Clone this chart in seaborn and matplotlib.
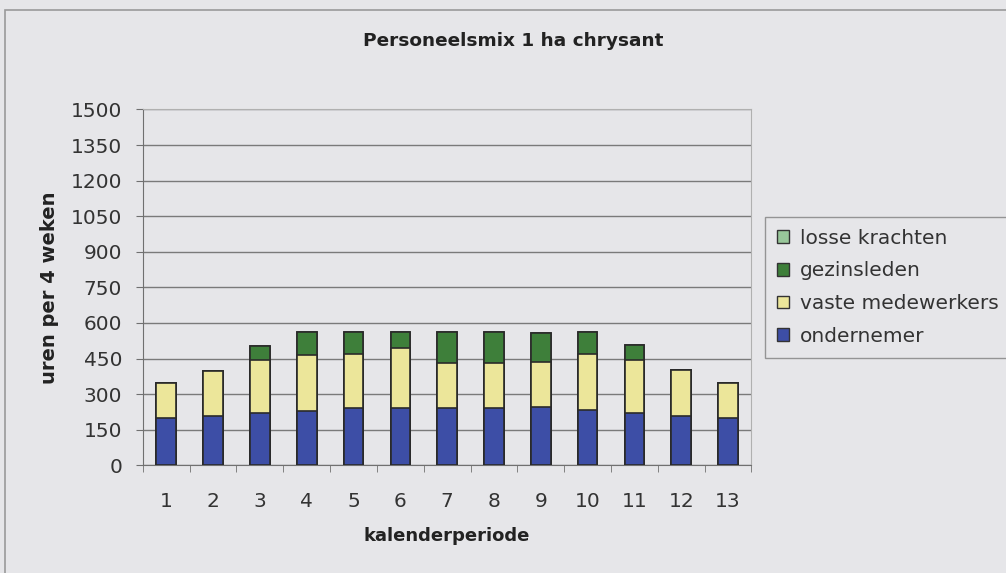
import numpy as np
import pandas as pd
import matplotlib
matplotlib.use("Agg")
import matplotlib.pyplot as plt
import matplotlib.patches as mpatches
from matplotlib.ticker import FixedLocator
import seaborn as sns

sns.set_style("white")
plt.rcParams["font.family"] = ["DejaVu Sans"]

periods = [str(i) for i in range(1, 14)]
ondernemer = [198, 207, 219, 230, 242, 242, 242, 242, 244, 233, 219, 209, 198]
vaste_medewerkers = [148, 191, 224, 235, 226, 254, 191, 191, 191, 238, 226, 192, 148]
gezinsleden = [0, 0, 61, 95, 92, 64, 127, 127, 123, 89, 62, 0, 0]
losse_krachten = [0] * 13

series = ["ondernemer", "vaste medewerkers", "gezinsleden", "losse krachten"]
colors = {"ondernemer": "#3d4ea6", "vaste medewerkers": "#ece69a",
          "gezinsleden": "#3e7f3a", "losse krachten": "#98c79a"}

df = pd.DataFrame({"periode": periods, "ondernemer": ondernemer,
                   "vaste medewerkers": vaste_medewerkers,
                   "gezinsleden": gezinsleden, "losse krachten": losse_krachten})
cum = df[series].cumsum(axis=1)
cum["periode"] = df["periode"]

bg = "#e6e6e9"
fig = plt.figure(figsize=(10.06, 5.73), dpi=100, facecolor=bg)
ax = fig.add_axes([0.142, 0.188, 0.605, 0.621], facecolor=bg)

# stacked bars: draw cumulative totals, tallest first
for s in reversed(series):
    sns.barplot(data=cum, x="periode", y=s, color=colors[s], width=0.42,
                edgecolor="#2a2a2a", linewidth=1.2, saturation=1, ax=ax, zorder=3)

ax.set_ylim(0, 1500)
ax.set_xlim(-0.5, 12.5)
ax.set_yticks(np.arange(0, 1501, 150))
ax.yaxis.grid(True, color="#7a7a7a", linewidth=1.0, zorder=0)
ax.set_axisbelow(True)
for side in ["top", "right"]:
    ax.spines[side].set_color("#b0b0b0")
for side in ["left", "bottom"]:
    ax.spines[side].set_color("#707070")
ax.tick_params(axis="y", length=5, color="#707070", labelsize=14.5, pad=10, left=True, labelcolor="#333333")
ax.tick_params(axis="x", which="major", length=0, labelsize=14.5, pad=19, labelcolor="#333333")
ax.xaxis.set_minor_locator(FixedLocator(np.arange(-0.5, 13, 1)))
ax.tick_params(axis="x", which="minor", length=5, color="#707070", bottom=True)

ax.set_xlabel("kalenderperiode", fontsize=13, fontweight="bold", labelpad=12, color="#222222")
ax.set_ylabel("uren per 4 weken", fontsize=14, fontweight="bold", labelpad=8, color="#222222")
fig.text(0.51, 0.928, "Personeelsmix 1 ha chrysant", ha="center", va="center",
         fontsize=13.3, fontweight="bold", color="#222222")

handles = [mpatches.Patch(facecolor=colors[s], edgecolor="#333333", label=s)
           for s in reversed(series)]
leg = fig.legend(handles=handles, loc="upper left", bbox_to_anchor=(0.760, 0.622),
                 fontsize=14.5, frameon=True, handlelength=0.6, handleheight=0.6,
                 handletextpad=0.55, labelspacing=0.68, borderpad=0.6, borderaxespad=0,
                 fancybox=False)
leg.get_frame().set_edgecolor("#808080")
leg.get_frame().set_facecolor(bg)
for t in leg.get_texts():
    t.set_color("#333333")

fig.patches.append(mpatches.Rectangle((0.005, -0.01), 1.1, 0.992, transform=fig.transFigure,
                                      fill=False, edgecolor="#9a9a9a", linewidth=1.2))

fig.savefig("out.png", dpi=100, facecolor=bg)
